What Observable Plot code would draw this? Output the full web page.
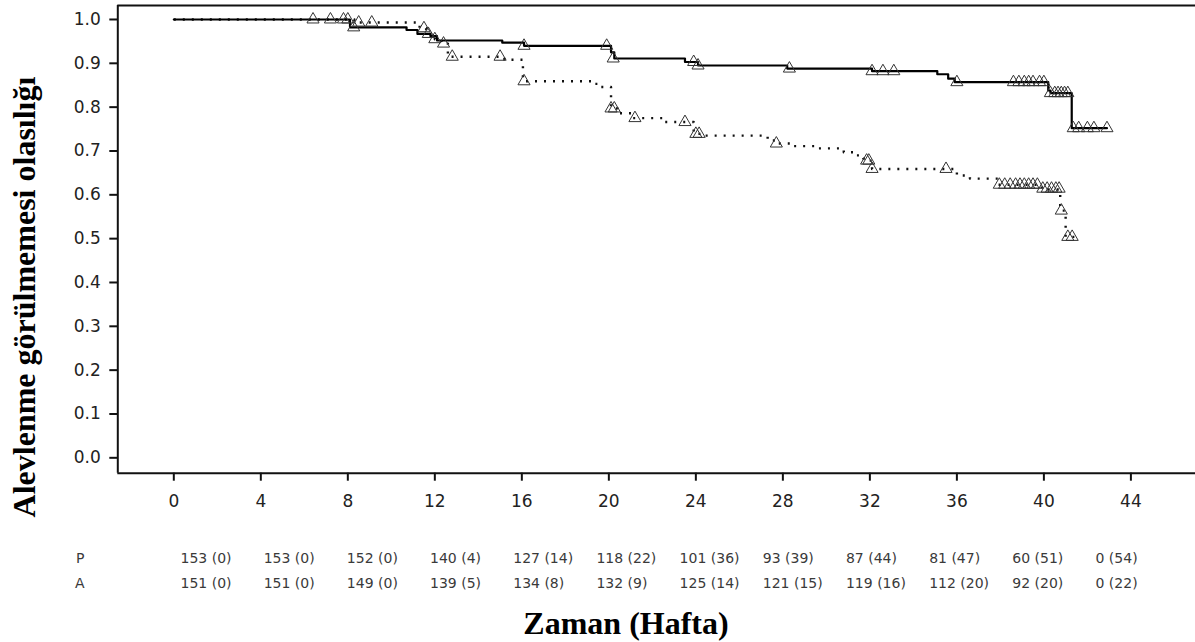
<!DOCTYPE html>
<html><head><meta charset="utf-8">
<script src="https://cdn.jsdelivr.net/npm/d3@7"></script>
<script src="https://cdn.jsdelivr.net/npm/@observablehq/plot@0.6"></script>
<style>
body{margin:0;background:#fff;}
#wrap{position:relative;width:1195px;height:642px;overflow:hidden;background:#fff;}
#main{position:absolute;left:0;top:0;}
#risk{position:absolute;left:0;top:530px;}
.ttl{position:absolute;font-family:"Liberation Serif","Times New Roman",serif;font-weight:bold;font-size:32px;line-height:32px;white-space:nowrap;color:#000;}
#ytitle{left:24px;top:297px;transform:translate(-50%,-50%) rotate(-90deg);}
#xtitle{left:626px;top:607px;transform:translateX(-50%);}
</style></head>
<body><div id="wrap"><div id="main"></div><div id="risk"></div>
<div id="ytitle" class="ttl">Alevlenme görülmemesi olasılığı</div>
<div id="xtitle" class="ttl">Zaman (Hafta)</div></div>
<script>
// Ticks
const xTicks = [0,4,8,12,16,20,24,28,32,36,40,44];
const yTicks = [0,0.1,0.2,0.3,0.4,0.5,0.6,0.7,0.8,0.9,1.0];

// Group P (solid) - step times and survival after each step
const pTimes = [0, 8.1, 10.7, 11.2, 11.8, 12.1, 15.1, 16.1, 20.1, 20.25, 23.5, 24.1, 28.2, 32.1, 35.1, 35.6, 35.9, 40.2, 40.3, 41.28];
const pSurv  = [1, 0.982, 0.976, 0.967, 0.962, 0.952, 0.947, 0.940, 0.925, 0.911, 0.903, 0.895, 0.888, 0.882, 0.875, 0.865, 0.857, 0.838, 0.832, 0.752];
const pEnd = 42.9;
const pCensT = [6.4, 7.8, 8.27, 16.1, 19.9, 20.2, 23.9, 24.1, 28.3, 32.1, 32.6, 33.1, 36.0, 38.6, 38.85, 39.1, 39.3, 39.5, 39.8, 40.0, 40.3, 40.5, 40.65, 40.8, 40.95, 41.1, 41.35, 41.6, 42.0, 42.3, 42.9];
const pCensS = [1, 1, 0.982, 0.940, 0.940, 0.911, 0.903, 0.895, 0.888, 0.882, 0.882, 0.882, 0.857, 0.857, 0.857, 0.857, 0.857, 0.857, 0.857, 0.857, 0.832, 0.832, 0.832, 0.832, 0.832, 0.832, 0.752, 0.752, 0.752, 0.752, 0.752];

// Group A (dotted)
const aTimes = [0, 8.3, 11.3, 11.6, 12.0, 12.3, 12.6, 15.2, 16.05, 19.3, 19.6, 20.1, 20.4, 21.1, 22.5, 23.9, 24.4, 27.3, 27.8, 28.4, 29.5, 30.8, 31.4, 31.7, 31.9, 32.1, 36.0, 36.6, 37.9, 39.9, 40.75, 41.0];
const aSurv  = [1, 0.993, 0.980, 0.967, 0.955, 0.945, 0.915, 0.908, 0.859, 0.853, 0.846, 0.797, 0.786, 0.775, 0.766, 0.739, 0.735, 0.724, 0.717, 0.711, 0.706, 0.697, 0.690, 0.683, 0.678, 0.659, 0.644, 0.637, 0.623, 0.612, 0.564, 0.504];
const aEnd = 41.4;
const aCensT = [7.2, 8.0, 8.5, 9.1, 11.5, 11.7, 12.0, 12.4, 12.8, 15.0, 16.1, 20.1, 20.25, 21.2, 23.5, 24.0, 24.15, 27.7, 31.85, 31.95, 32.1, 35.5, 37.95, 38.2, 38.45, 38.7, 38.9, 39.1, 39.3, 39.5, 39.7, 39.95, 40.15, 40.35, 40.55, 40.7, 40.8, 41.1, 41.3];
const aCensS = [1, 1, 0.993, 0.993, 0.980, 0.967, 0.955, 0.945, 0.915, 0.915, 0.859, 0.797, 0.797, 0.775, 0.766, 0.739, 0.739, 0.717, 0.678, 0.678, 0.659, 0.659, 0.623, 0.623, 0.623, 0.623, 0.623, 0.623, 0.623, 0.623, 0.623, 0.614, 0.614, 0.614, 0.614, 0.614, 0.564, 0.504, 0.504];

// Risk table
const riskGroups = ["P", "A"];
const riskTimes = [0,4,8,12,16,20,24,28,32,36,40,44];
const riskP = [153,153,152,140,127,118,101,93,87,81,60,0];
const censP = [0,0,0,4,14,22,36,39,44,47,51,54];
const riskA = [151,151,149,139,134,132,125,121,119,112,92,0];
const censA = [0,0,0,5,8,9,14,15,16,20,20,22];

function stepLine(times, surv, end) {
  const pts = times.map((t, i) => ({t, s: surv[i]}));
  pts.push({t: end, s: surv[surv.length - 1]});
  return pts;
}
const pLine = stepLine(pTimes, pSurv, pEnd);
const aLine = stepLine(aTimes, aSurv, aEnd);
const cens = pCensT.map((t, i) => ({t, s: pCensS[i], g: "P"}))
  .concat(aCensT.map((t, i) => ({t, s: aCensS[i], g: "A"})));

const riskRows = riskTimes.map((t, i) => ({t, g: "P", label: `${riskP[i]} (${censP[i]})`}))
  .concat(riskTimes.map((t, i) => ({t, g: "A", label: `${riskA[i]} (${censA[i]})`})));

const xDom = [-2.575, 46.97];
const yDom = [-0.0351, 1.0319];

const main = Plot.plot({
  width: 1195, height: 520,
  marginLeft: 117.3, marginRight: 0, marginTop: 5, marginBottom: 47.3,
  style: {fontFamily: "DejaVu Sans", fontSize: "17px", color: "#222", background: "#fff", overflow: "visible"},
  x: {domain: xDom},
  y: {domain: yDom},
  marks: [
    Plot.ruleX([xDom[0]], {stroke: "#111", strokeWidth: 2}),
    Plot.ruleY(yDom, {stroke: "#111", strokeWidth: 2}),
    Plot.axisX({ticks: xTicks, tickSize: 8, tickPadding: 14, strokeWidth: 2, stroke: "#111", fontSize: 17, label: null}),
    Plot.axisY({ticks: yTicks, tickSize: 8, tickPadding: 9, strokeWidth: 2, stroke: "#111", tickFormat: d3.format(".1f"), fontSize: 17, label: null}),
    Plot.line(aLine, {x: "t", y: "s", curve: "step-after", stroke: "#111", strokeWidth: 2.4, strokeDasharray: "2,7", strokeLinecap: "butt"}),
    Plot.line(pLine, {x: "t", y: "s", curve: "step-after", stroke: "#000", strokeWidth: 2.2}),
    Plot.dot(cens, {x: "t", y: "s", symbol: "triangle", r: 4.5, stroke: "#333", strokeWidth: 1, fill: "none"})
  ]
});
document.getElementById("main").appendChild(main);

const risk = Plot.plot({
  width: 1195, height: 70,
  marginLeft: 180, marginRight: 100, marginTop: 28, marginBottom: 17,
  style: {fontFamily: "DejaVu Sans", fontSize: "14px", color: "#3a3a3a", background: "transparent"},
  x: {domain: [0, 44], axis: null},
  y: {type: "point", domain: riskGroups, padding: 0},
  marks: [
    Plot.axisY({tickSize: 0, tickPadding: 96, fontSize: 14, label: null}),
    Plot.text(riskRows, {x: "t", y: "g", text: "label", textAnchor: "start", fontSize: 14, fill: "#3a3a3a"})
  ]
});
document.getElementById("risk").appendChild(risk);
</script>
</body></html>
